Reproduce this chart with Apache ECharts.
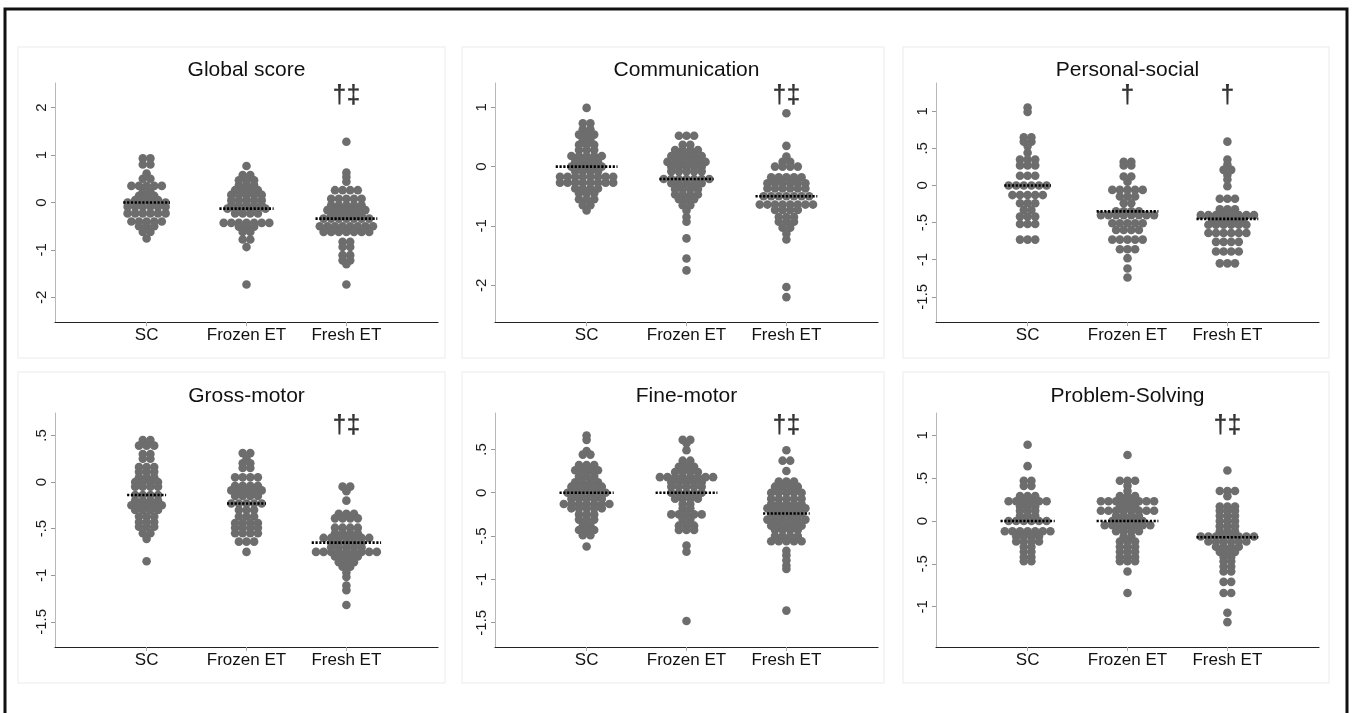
<!DOCTYPE html>
<html>
<head>
<meta charset="utf-8">
<script src="https://cdn.jsdelivr.net/npm/echarts@6/dist/echarts.min.js"></script>
<style>
  html, body { margin: 0; padding: 0; background: #fff; }
  #chart { width: 1355px; height: 713px; }
</style>
</head>
<body>
<div id="chart"></div>
<script>
// Groups along the x axis of every panel
const groups = ['SC', 'Frozen ET', 'Fresh ET'];
const panelTitles = ['Global score', 'Communication', 'Personal-social',
                     'Gross-motor', 'Fine-motor', 'Problem-Solving'];

// Y axis ranges and labelled ticks per panel
const yMins = [-2.52, -2.62, -1.84, -1.77, -1.78, -1.47];
const yMaxs = [2.52, 1.41, 1.38, 0.74, 0.92, 1.26];
const yTicks = [
  [-2, -1, 0, 1, 2],
  [-2, -1, 0, 1],
  [-1.5, -1, -0.5, 0, 0.5, 1],
  [-1.5, -1, -0.5, 0, 0.5],
  [-1.5, -1, -0.5, 0, 0.5],
  [-1, -0.5, 0, 0.5, 1]
];

// Group medians (dotted lines)
const medians = [
  [0, -0.13, -0.34],
  [0, -0.21, -0.5],
  [0, -0.35, -0.45],
  [-0.14, -0.23, -0.65],
  [0, 0, -0.24],
  [0, 0, -0.19]
];

// Significance marks above groups
const sigMarks = [
  ['', '', '†‡'],
  ['', '', '†‡'],
  ['', '†', '†'],
  ['', '', '†‡'],
  ['', '', '†‡'],
  ['', '', '†‡']
];

// Dot rows per group: [score, number of children at that score]
const globalSC = [[0.93,2],[0.8,2],[0.61,1],[0.5,2],[0.35,5],[0.22,2],[0.14,3],[0.05,4],[0,6],[-0.09,6],[-0.23,6],[-0.4,5],[-0.5,3],[-0.62,2],[-0.76,1]];
const globalFrozen = [[0.77,1],[0.58,2],[0.47,3],[0.37,3],[0.26,4],[0.16,5],[0.05,5],[-0.06,5],[-0.13,6],[-0.23,4],[-0.43,7],[-0.51,3],[-0.62,2],[-0.78,2],[-0.94,1],[-1.73,1]];
const globalFresh = [[1.28,1],[0.63,1],[0.54,1],[0.44,1],[0.26,4],[0.08,5],[-0.06,5],[-0.16,6],[-0.27,5],[-0.34,7],[-0.5,8],[-0.62,7],[-0.83,2],[-0.94,2],[-1.11,2],[-1.22,2],[-1.3,1],[-1.73,1]];

const commSC = [[0.99,1],[0.73,2],[0.63,2],[0.54,3],[0.45,2],[0.37,3],[0.28,3],[0.18,5],[0.08,4],[0,5],[-0.08,4],[-0.17,8],[-0.27,8],[-0.37,4],[-0.45,3],[-0.55,3],[-0.65,2],[-0.74,1]];
const commFrozen = [[0.52,3],[0.37,2],[0.28,4],[0.18,5],[0.08,6],[0,5],[-0.08,5],[-0.21,7],[-0.28,5],[-0.38,4],[-0.47,4],[-0.55,3],[-0.65,2],[-0.74,1],[-0.85,1],[-0.93,1],[-1.21,1],[-1.55,1],[-1.75,1]];
const commFresh = [[0.9,1],[0.35,1],[0.17,1],[0.08,2],[0,4],[-0.18,5],[-0.28,6],[-0.37,6],[-0.5,7],[-0.64,8],[-0.73,4],[-0.85,3],[-0.93,3],[-1.03,2],[-1.13,1],[-1.23,1],[-2.03,1],[-2.2,1]];

const persSC = [[1.05,1],[0.99,1],[0.65,2],[0.59,2],[0.53,1],[0.44,1],[0.35,3],[0.27,3],[0.13,3],[0,6],[-0.13,5],[-0.24,3],[-0.33,2],[-0.42,3],[-0.52,3],[-0.73,3]];
const persFrozen = [[0.32,2],[0.27,2],[0.12,2],[0.05,1],[-0.06,5],[-0.15,3],[-0.24,2],[-0.35,4],[-0.4,8],[-0.51,5],[-0.6,4],[-0.73,5],[-0.86,3],[-0.98,1],[-1.12,1],[-1.24,1]];
const persFresh = [[0.59,1],[0.35,1],[0.28,1],[0.21,2],[0.14,1],[0.08,1],[-0.01,1],[-0.18,3],[-0.32,3],[-0.4,8],[-0.46,5],[-0.53,6],[-0.64,6],[-0.76,4],[-0.89,4],[-1.05,3]];

const grossSC = [[0.45,2],[0.39,3],[0.3,2],[0.25,2],[0.16,3],[0.11,3],[0.05,3],[0,4],[-0.05,4],[-0.14,4],[-0.2,4],[-0.25,5],[-0.3,4],[-0.37,3],[-0.43,3],[-0.48,3],[-0.55,2],[-0.61,1],[-0.85,1]];
const grossFrozen = [[0.31,2],[0.25,1],[0.2,2],[0.15,2],[0.05,4],[-0.04,4],[-0.09,5],[-0.15,4],[-0.23,5],[-0.3,3],[-0.37,3],[-0.44,4],[-0.49,4],[-0.55,4],[-0.64,3],[-0.75,1]];
const grossFresh = [[-0.05,2],[-0.1,1],[-0.2,1],[-0.34,3],[-0.39,4],[-0.49,4],[-0.55,4],[-0.6,7],[-0.65,5],[-0.7,5],[-0.75,9],[-0.8,4],[-0.86,3],[-0.91,2],[-0.97,1],[-1.02,1],[-1.11,1],[-1.16,1],[-1.32,1]];

const fineSC = [[0.66,1],[0.61,1],[0.48,1],[0.44,2],[0.32,3],[0.26,4],[0.19,3],[0.12,4],[0.07,5],[0,6],[-0.07,5],[-0.13,7],[-0.18,5],[-0.25,3],[-0.31,3],[-0.38,2],[-0.43,3],[-0.49,2],[-0.62,1]];
const fineFrozen = [[0.61,2],[0.57,1],[0.49,1],[0.37,2],[0.3,3],[0.24,4],[0.18,8],[0.12,5],[0.07,5],[0,5],[-0.07,4],[-0.13,2],[-0.18,2],[-0.25,5],[-0.31,2],[-0.38,3],[-0.43,3],[-0.61,1],[-0.68,1],[-1.48,1]];
const fineFresh = [[0.49,1],[0.37,2],[0.25,1],[0.13,3],[0.07,4],[0,5],[-0.07,5],[-0.13,5],[-0.18,6],[-0.24,5],[-0.31,6],[-0.38,5],[-0.43,4],[-0.5,4],[-0.56,5],[-0.67,1],[-0.72,1],[-0.78,1],[-0.84,1],[-0.88,1],[-1.36,1]];

const probSC = [[0.89,1],[0.64,1],[0.47,2],[0.41,2],[0.29,3],[0.23,6],[0.17,3],[0.12,3],[0.06,3],[0,6],[-0.12,7],[-0.18,4],[-0.24,4],[-0.3,2],[-0.36,2],[-0.42,2],[-0.47,2]];
const probFrozen = [[0.77,1],[0.47,3],[0.41,1],[0.35,1],[0.29,3],[0.23,8],[0.17,3],[0.12,8],[0.06,4],[0,5],[-0.05,7],[-0.12,4],[-0.18,2],[-0.24,3],[-0.3,3],[-0.36,3],[-0.42,3],[-0.47,3],[-0.59,1],[-0.84,1]];
const probFresh = [[0.59,1],[0.35,3],[0.29,1],[0.17,3],[0.12,3],[0.06,3],[0,3],[-0.06,3],[-0.12,3],[-0.18,8],[-0.24,6],[-0.3,4],[-0.36,3],[-0.42,2],[-0.47,2],[-0.53,2],[-0.59,2],[-0.71,2],[-0.84,2],[-1.07,1],[-1.18,1]];

const panelRows = [
  [globalSC, globalFrozen, globalFresh],
  [commSC, commFrozen, commFresh],
  [persSC, persFrozen, persFresh],
  [grossSC, grossFrozen, grossFresh],
  [fineSC, fineFrozen, fineFresh],
  [probSC, probFrozen, probFresh]
];

// ---- layout ----
const FONT = '"Liberation Sans", Arial, Helvetica, sans-serif';
const colLefts = [55, 495, 936];
const rowTops = [83, 413];
const rowHeights = [239, 234];
const gridWidth = 383;
const xMin = 0.083, xMax = 3.917;
const dotSize = 8.6;
const dotStepPx = 7.6;
const dotStep = dotStepPx * (xMax - xMin) / gridWidth;
const dotRadius = (dotSize / 2) * (xMax - xMin) / gridWidth;

const stataLabel = v => {
  const s = String(Math.round(v * 100) / 100);
  return s.replace(/^(-?)0\./, '$1.');
};

const grids = [], xAxes = [], yAxes = [], series = [], graphics = [];

// outer figure border
graphics.push({
  type: 'rect', silent: true, z: 0,
  shape: { x: 5, y: 9, width: 1342, height: 730 },
  style: { fill: 'none', stroke: '#111', lineWidth: 3 }
});

const frameCols = [[18, 445], [462, 884], [903, 1329]];
const frameRows = [[47, 358], [372, 683]];
const titleYs = [70, 396];

for (let p = 0; p < 6; p++) {
  const r = Math.floor(p / 3), c = p % 3;
  grids.push({ left: colLefts[c], top: rowTops[r], width: gridWidth, height: rowHeights[r], containLabel: false });

  graphics.push({
    type: 'rect', silent: true, z: 0,
    shape: { x: frameCols[c][0], y: frameRows[r][0],
             width: frameCols[c][1] - frameCols[c][0], height: frameRows[r][1] - frameRows[r][0] },
    style: { fill: '#fff', stroke: '#f2f2f2', lineWidth: 1.5 }
  });
  graphics.push({
    type: 'text', silent: true, z: 10,
    x: colLefts[c] + gridWidth / 2, y: titleYs[r],
    style: { text: panelTitles[p], font: '21px ' + FONT, fill: '#111',
             align: 'center', verticalAlign: 'middle',
             textAlign: 'center', textVerticalAlign: 'middle' }
  });

  xAxes.push({
    type: 'value', gridIndex: p, min: xMin, max: xMax,
    axisLine: { show: true, onZero: false, lineStyle: { color: '#222', width: 1.2 } },
    axisTick: { show: true, length: 4, customValues: [1, 2, 3], lineStyle: { color: '#aaa' } },
    axisLabel: { customValues: [1, 2, 3], formatter: v => groups[Math.round(v) - 1],
                 fontSize: 17, color: '#111', fontFamily: FONT, margin: 5 },
    splitLine: { show: false }
  });
  yAxes.push({
    type: 'value', gridIndex: p, min: yMins[p], max: yMaxs[p],
    axisLine: { show: true, onZero: false, lineStyle: { color: '#b8b8b8', width: 1 } },
    axisTick: { show: true, length: 4, customValues: yTicks[p], lineStyle: { color: '#999' } },
    axisLabel: { customValues: yTicks[p], formatter: stataLabel, rotate: 90,
                 fontSize: 15, color: '#1a1a1a', fontFamily: FONT, margin: 6 },
    splitLine: { show: false }
  });

  // dots: each row of equal scores is spread sideways around the group centre
  const dots = [];
  panelRows[p].forEach((rows, g) => {
    rows.forEach(([val, n]) => {
      for (let i = 0; i < n; i++) {
        dots.push([g + 1 + (i - (n - 1) / 2) * dotStep, val]);
      }
    });
  });
  series.push({
    type: 'scatter', xAxisIndex: p, yAxisIndex: p, data: dots,
    symbol: 'circle', symbolSize: dotSize, silent: true, z: 2,
    itemStyle: { color: '#6d6d6d', opacity: 1 }
  });

  // median lines span the widest row of the group
  panelRows[p].forEach((rows, g) => {
    const widest = Math.max(...rows.map(rw => rw[1]));
    const half = (widest - 1) / 2 * dotStep + dotRadius;
    series.push({
      type: 'line', xAxisIndex: p, yAxisIndex: p, silent: true, z: 3,
      symbol: 'none',
      data: [[g + 1 - half, medians[p][g]], [g + 1 + half, medians[p][g]]],
      lineStyle: { color: '#000', width: 2.6, type: [2.2, 1.6] }
    });
  });

  // significance marks near the top of each panel
  const markData = [];
  sigMarks[p].forEach((m, g) => { if (m) markData.push({ value: [g + 1, yMaxs[p]], mark: m }); });
  series.push({
    type: 'scatter', xAxisIndex: p, yAxisIndex: p, data: markData,
    symbolSize: 0, silent: true, clip: false, z: 5,
    itemStyle: { color: 'rgba(0,0,0,0)' },
    label: { show: true, position: 'inside', offset: [0, 13],
             formatter: prm => prm.data.mark,
             fontSize: 25, fontWeight: 'bold', color: '#000', fontFamily: FONT }
  });
}

const chart = echarts.init(document.getElementById('chart'), null, { renderer: 'canvas' });
chart.setOption({
  animation: false,
  backgroundColor: '#fff',
  grid: grids,
  xAxis: xAxes,
  yAxis: yAxes,
  series: series,
  graphic: { elements: graphics }
});
</script>
</body>
</html>
